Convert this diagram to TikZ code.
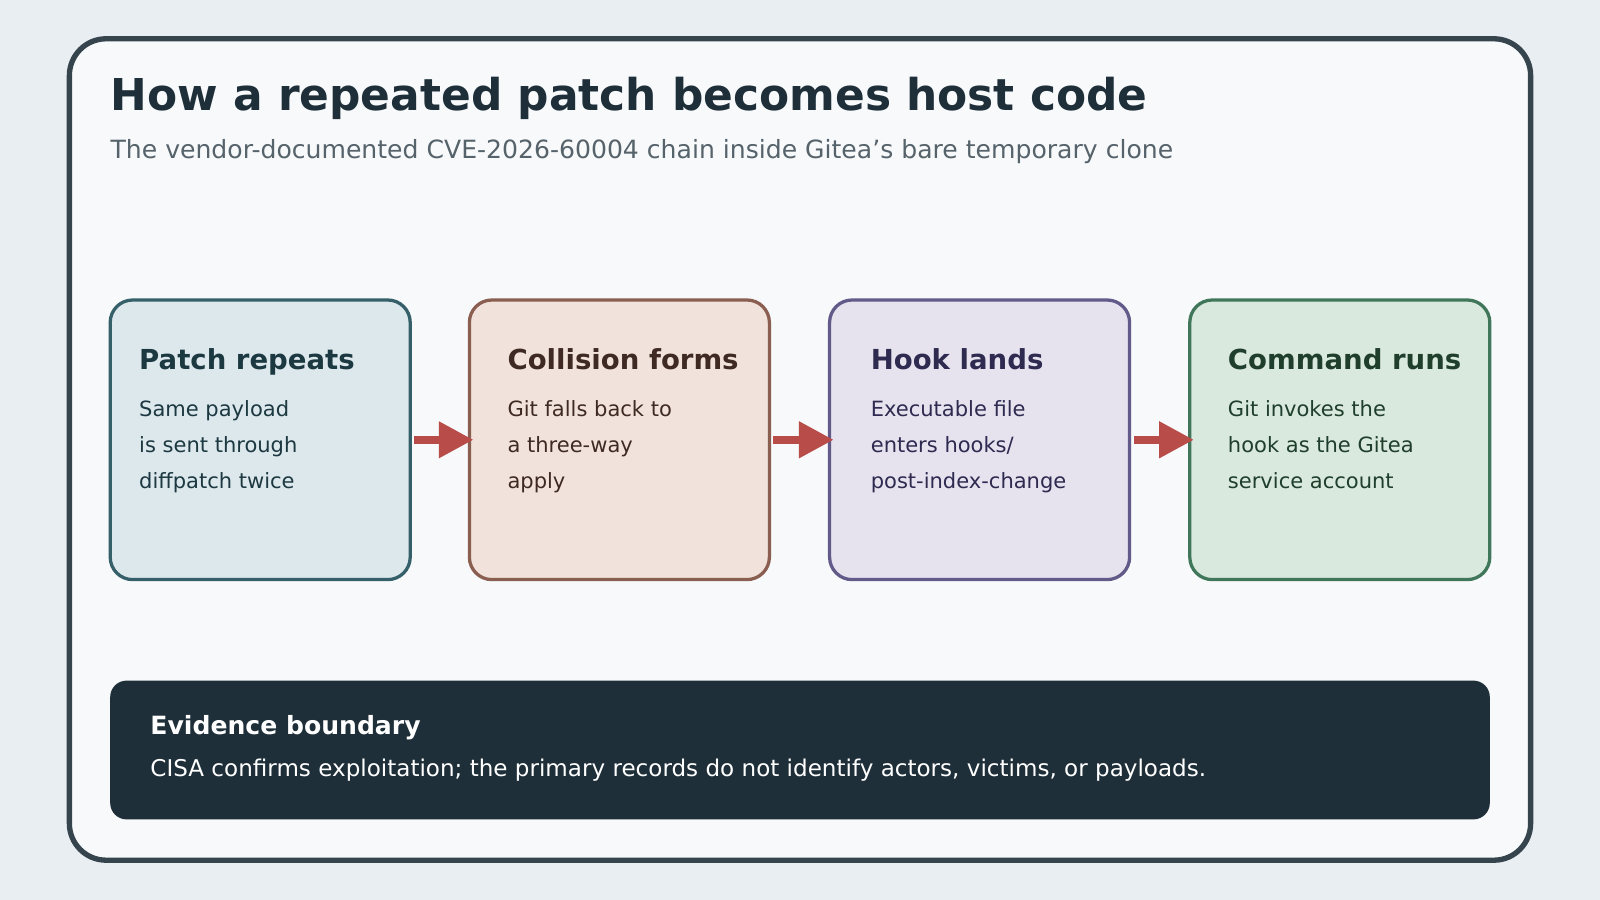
\documentclass[tikz,border=0pt]{standalone}
\usepackage{fontspec}
\setmainfont{DejaVu Sans}
\usetikzlibrary{arrows.meta}
\definecolor{bgc}{HTML}{E9EEF2}
\definecolor{cardc}{HTML}{F7F9FB}
\definecolor{inkc}{HTML}{1E2F39}
\definecolor{subc}{HTML}{56636B}
\definecolor{arrc}{HTML}{B84C48}
\definecolor{fA}{HTML}{DDE8ED}\definecolor{dA}{HTML}{35606A}\definecolor{tA}{HTML}{1C3840}
\definecolor{fB}{HTML}{F1E3DB}\definecolor{dB}{HTML}{8A5F52}\definecolor{tB}{HTML}{3E2A22}
\definecolor{fC}{HTML}{E6E3EF}\definecolor{dC}{HTML}{625A88}\definecolor{tC}{HTML}{2E2A50}
\definecolor{fD}{HTML}{D9E9DD}\definecolor{dD}{HTML}{40775A}\definecolor{tD}{HTML}{1F3E2C}
\tikzset{
  step/.style={draw=#1, line width=1.6pt, rounded corners=11pt},
  head/.style={anchor=base west, inner sep=0, font=\bfseries\fontsize{13.5}{16}\selectfont},
  body/.style={anchor=north west, inner sep=0, align=left, font=\fontsize{10.3}{17.6}\selectfont},
  flow/.style={arrc, line width=4pt, -{Triangle[length=17pt,width=17pt]}, shorten <=2pt, shorten >=-2pt}
}
\begin{document}
\begin{tikzpicture}[x=0.5pt,y=-0.5pt]
\useasboundingbox (0,0) rectangle (1568,882);
\fill[bgc] (0,0) rectangle (1568,882);
\draw[inkc!90!white, fill=cardc, line width=2.6pt, rounded corners=18pt] (68,38) rectangle (1500,843);
\node[anchor=base west, inner sep=0, text=inkc, font=\bfseries\fontsize{21.5}{26}\selectfont] (title) at (108,108) {How a repeated patch becomes host code};
\node[anchor=base west, inner sep=0, text=subc, font=\fontsize{12.3}{15}\selectfont] (subtitle) at (108,155) {The vendor-documented CVE-2026-60004 chain inside Gitea's bare temporary clone};
% the four steps
\foreach \n/\x/\c/\h/\t in {
  repeat/108/A/Patch repeats/{Same payload\\is sent through\\diffpatch twice},
  collide/460/B/Collision forms/{Git falls back to\\a three-way\\apply},
  hook/813/C/Hook lands/{Executable file\\enters hooks/\\post-index-change},
  run/1166/D/Command runs/{Git invokes the\\hook as the Gitea\\service account}} {
  \draw[step=d\c, fill=f\c] (\x,294) rectangle ++(294,274);
  \coordinate (\n-w) at (\x,431);
  \coordinate (\n-e) at (\x+294,431);
}
\node[head, text=tA] (h1) at (136,362) {Patch repeats};
\node[head, text=tB] (h2) at (497,362) {Collision forms};
\node[head, text=tC] (h3) at (853,362) {Hook lands};
\node[head, text=tD] (h4) at (1203,362) {Command runs};
\node[body, text=tA] (b1) at (136,392) {Same payload\\is sent through\\diffpatch twice};
\node[body, text=tB] (b2) at (497,392) {Git falls back to\\a three-way\\apply};
\node[body, text=tC] (b3) at (853,392) {Executable file\\enters hooks/\\post-index-change};
\node[body, text=tD] (b4) at (1203,392) {Git invokes the\\hook as the Gitea\\service account};
\draw[flow] (repeat-e) -- (collide-w);
\draw[flow] (collide-e) -- (hook-w);
\draw[flow] (hook-e) -- (run-w);
% evidence note
\fill[inkc, rounded corners=8pt] (108,667) rectangle (1460,803);
\node[anchor=base west, inner sep=0, text=white, font=\bfseries\fontsize{12.3}{15}\selectfont] (evh) at (147,720) {Evidence boundary};
\node[anchor=base west, inner sep=0, text=white, font=\fontsize{11.3}{14}\selectfont] (evt) at (147,761) {CISA confirms exploitation; the primary records do not identify actors, victims, or payloads.};
\end{tikzpicture}
\end{document}
